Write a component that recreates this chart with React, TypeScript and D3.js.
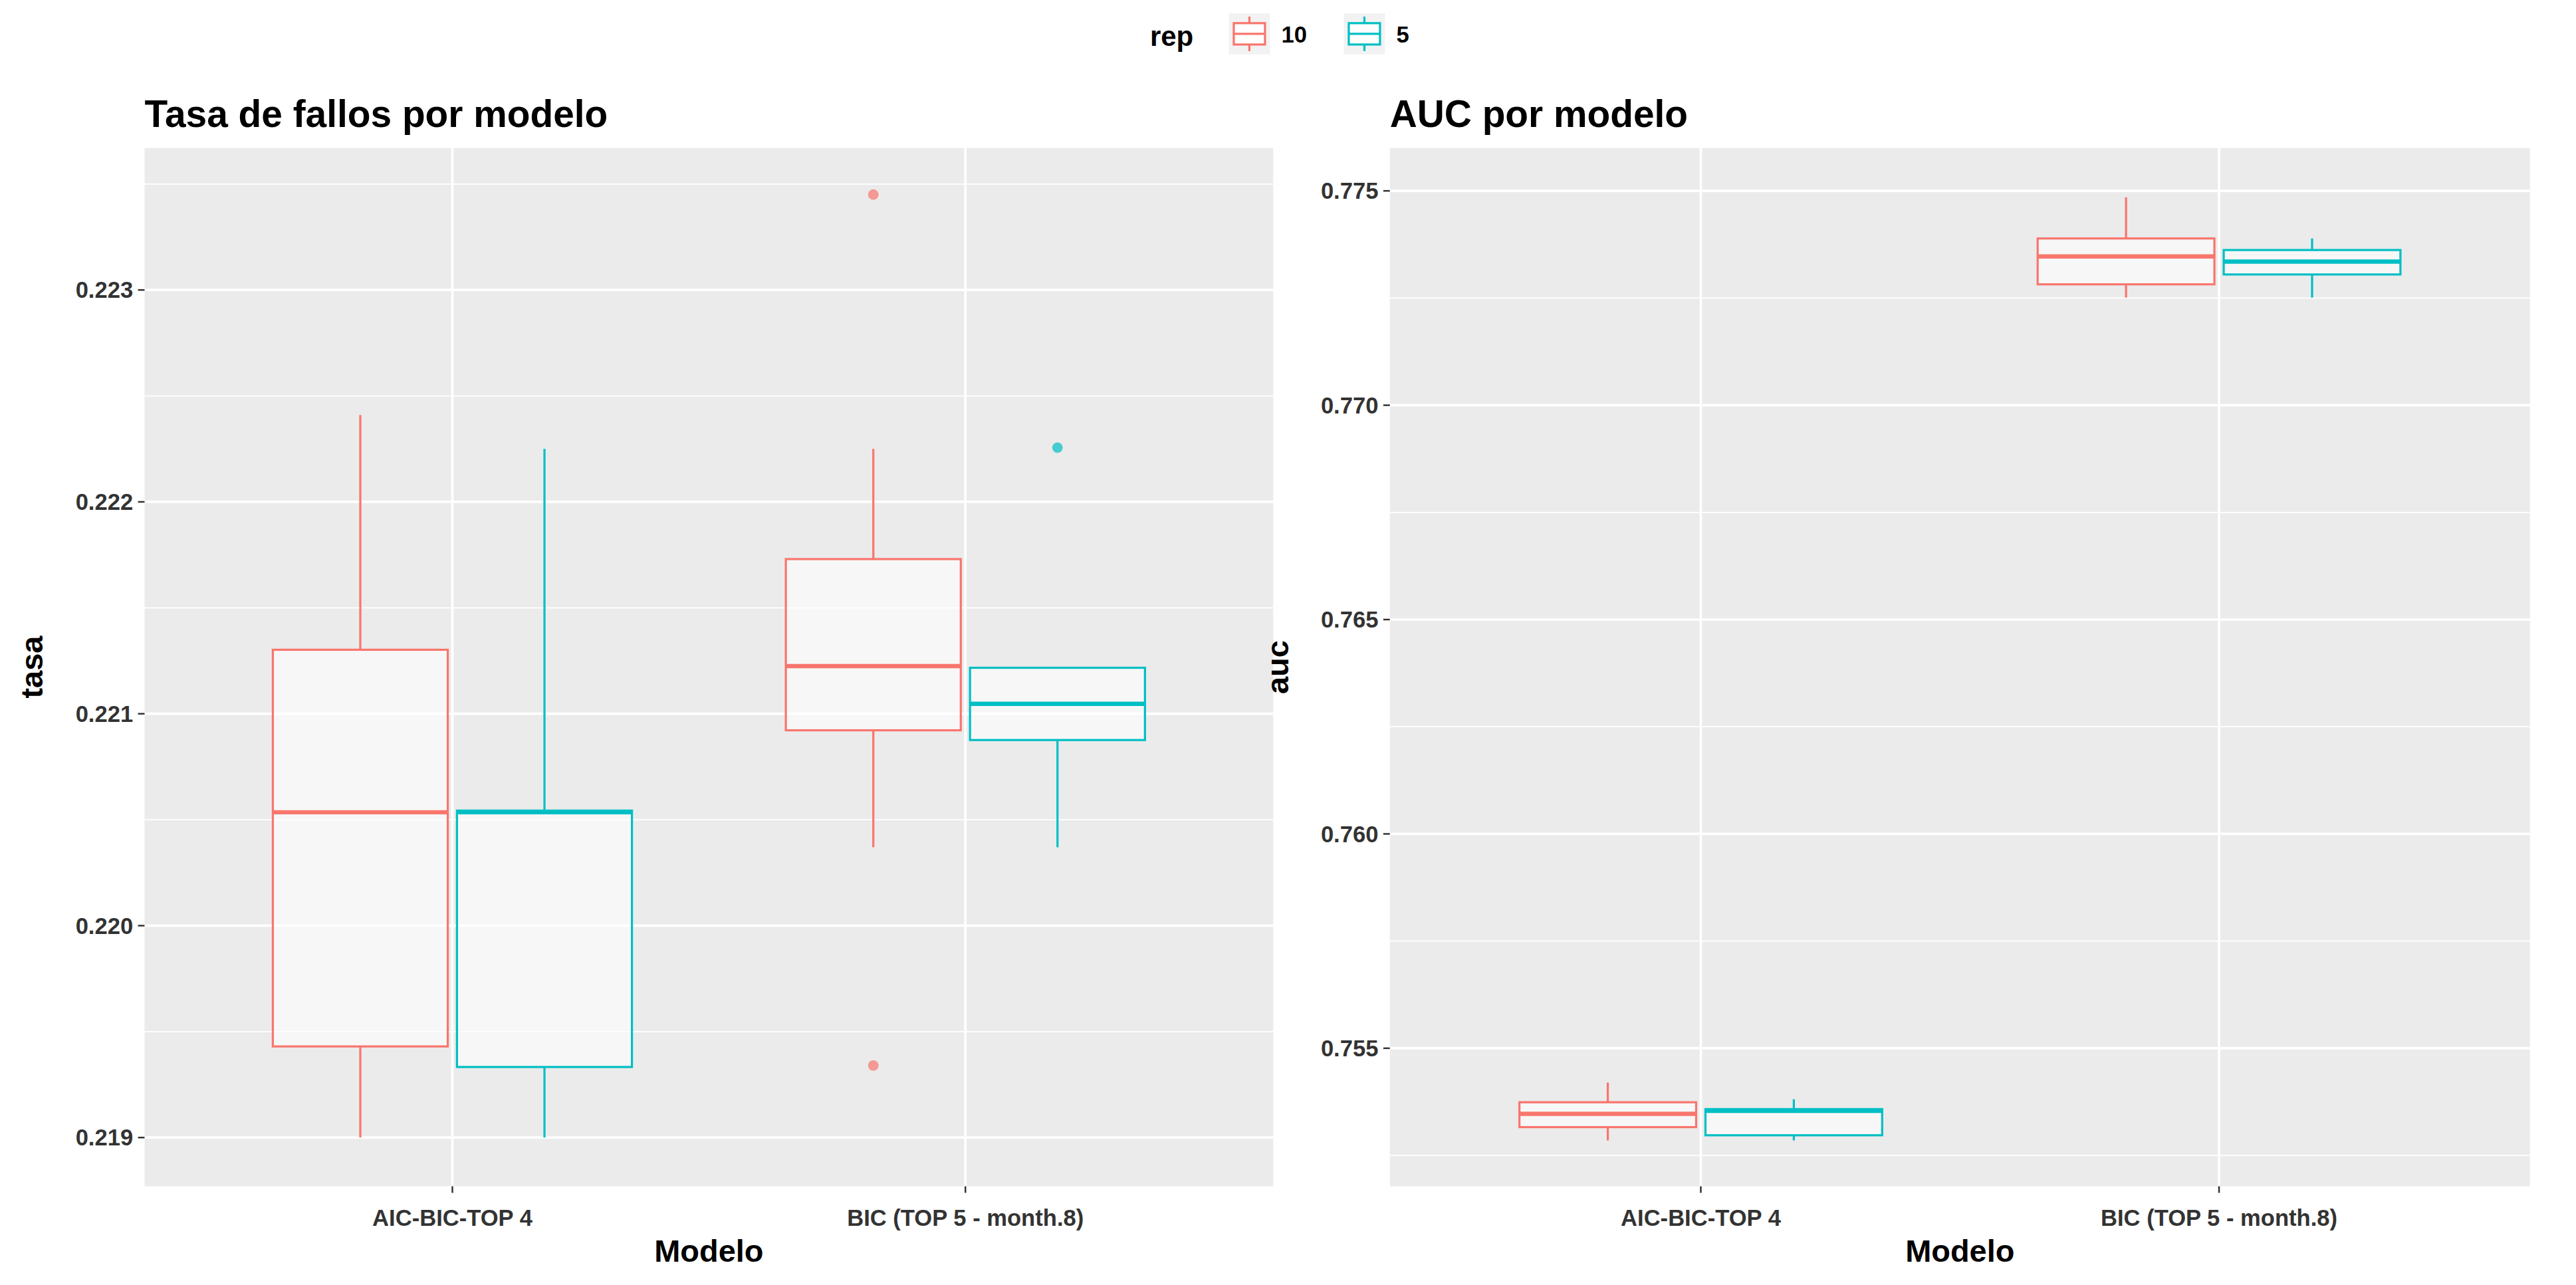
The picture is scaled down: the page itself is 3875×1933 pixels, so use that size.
import * as d3 from "d3";

const W = 1568, H = 782;
const MODELS = ["AIC-BIC-TOP 4", "BIC (TOP 5 - month.8)"];
const REPS = ["10", "5"];
const COLORS = ["#F8766D", "#00BFC4"];

// [lower whisker, Q1, median, Q3, upper whisker] per model x rep
const TASA_STATS = [
  [[0.219, 0.21943, 0.220535, 0.221302, 0.22241], [0.219, 0.219333, 0.220535, 0.220543, 0.22225]],
  [[0.22037, 0.220922, 0.221225, 0.22173, 0.22225], [0.22037, 0.220876, 0.221047, 0.221217, 0.221217]],
];
const TASA_OUT = [[[], []], [[0.22345, 0.21934], [0.222256]]];
const AUC_STATS = [
  [[0.75285, 0.75316, 0.75347, 0.75374, 0.7542], [0.75285, 0.75297, 0.75354, 0.75358, 0.75381]],
  [[0.77251, 0.77282, 0.77347, 0.77389, 0.77485], [0.77251, 0.77305, 0.77335, 0.77362, 0.77389]],
];
const AUC_OUT = [[[], []], [[], []]];
const TASA_TICKS = [0.219, 0.22, 0.221, 0.222, 0.223];
const AUC_TICKS = [0.755, 0.76, 0.765, 0.77, 0.775];

const FONT = "Liberation Sans, Arial, sans-serif";

function Panel({ x0, x1, title, yLabel, domain, ticks, fmt, stats, outs }: any) {
  const top = 90, bottom = 722;
  const y = d3.scaleLinear().domain(domain).range([bottom, top]);
  const xp = d3.scalePoint().domain(MODELS).range([x0, x1]).padding(0.6);
  const groupW = xp.step() * 0.7;
  const xr = d3.scaleBand().domain(REPS).range([-groupW / 2, groupW / 2]).paddingInner(0.05);
  const step = ticks[1] - ticks[0];
  const minors = [ticks[0] - step / 2, ...ticks.map((t: number) => t + step / 2)].filter(
    (v) => v > domain[0] && v < domain[1]
  );
  return (
    <g fontFamily={FONT}>
      <rect x={x0} y={top} width={x1 - x0} height={bottom - top} fill="#EBEBEB" />
      {minors.map((m, i) => (
        <line key={"m" + i} x1={x0} x2={x1} y1={y(m)} y2={y(m)} stroke="#fff" strokeWidth={0.7} />
      ))}
      {ticks.map((t: number) => (
        <line key={t} x1={x0} x2={x1} y1={y(t)} y2={y(t)} stroke="#fff" strokeWidth={1.5} />
      ))}
      {MODELS.map((m) => (
        <line key={m} x1={xp(m)!} x2={xp(m)!} y1={top} y2={bottom} stroke="#fff" strokeWidth={1.5} />
      ))}
      {MODELS.map((m, mi) =>
        REPS.map((r, ri) => {
          const [lo, q1, med, q3, hi] = stats[mi][ri];
          const bx = xp(m)! + xr(r)!;
          const bw = xr.bandwidth();
          const cx = bx + bw / 2;
          const c = COLORS[ri];
          return (
            <g key={m + r}>
              <line x1={cx} x2={cx} y1={y(hi)} y2={y(q3)} stroke={c} strokeWidth={1.3} />
              <line x1={cx} x2={cx} y1={y(q1)} y2={y(lo)} stroke={c} strokeWidth={1.3} />
              <rect x={bx} y={y(q3)} width={bw} height={y(q1) - y(q3)} fill="#fff" fillOpacity={0.6} stroke={c} strokeWidth={1.3} />
              <line x1={bx} x2={bx + bw} y1={y(med)} y2={y(med)} stroke={c} strokeWidth={2.6} />
              {outs[mi][ri].map((o: number, k: number) => (
                <circle key={k} cx={cx} cy={y(o)} r={3.2} fill={c} fillOpacity={0.7} />
              ))}
            </g>
          );
        })
      )}
      {ticks.map((t: number) => (
        <g key={"t" + t}>
          <line x1={x0 - 4} x2={x0} y1={y(t)} y2={y(t)} stroke="#333" />
          <text x={x0 - 7} y={y(t)} dy="0.35em" textAnchor="end" fontSize={14} fontWeight="bold" fill="#333">{fmt(t)}</text>
        </g>
      ))}
      {MODELS.map((m) => (
        <g key={"x" + m}>
          <line x1={xp(m)!} x2={xp(m)!} y1={bottom} y2={bottom + 4} stroke="#333" />
          <text x={xp(m)!} y={bottom + 24} textAnchor="middle" fontSize={14} fontWeight="bold" fill="#333">{m}</text>
        </g>
      ))}
      <text x={(x0 + x1) / 2} y={768} textAnchor="middle" fontSize={19} fontWeight="bold">Modelo</text>
      <text transform={`translate(${x0 - 62},${(top + bottom) / 2}) rotate(-90)`} textAnchor="middle" fontSize={19} fontWeight="bold">{yLabel}</text>
      <text x={x0} y={77} fontSize={23} fontWeight="bold">{title}</text>
    </g>
  );
}

export default function App() {
  return (
    <svg width={3875} height={1933} viewBox={`0 0 ${W} ${H}`} style={{ display: "block", background: "#fff", margin: "-8px 0 0 -8px" }}>
      <g fontFamily={FONT}>
        <text x={700} y={28} fontSize={17} fontWeight="bold">rep</text>
        {REPS.map((r, i) => {
          const lx = 748 + i * 70;
          return (
            <g key={r}>
              <rect x={lx} y={8} width={25} height={25} fill="#F2F2F2" />
              <line x1={lx + 12.5} x2={lx + 12.5} y1={10} y2={31} stroke={COLORS[i]} strokeWidth={1.3} />
              <rect x={lx + 3} y={14} width={19} height={13} fill="#fff" stroke={COLORS[i]} strokeWidth={1.3} />
              <line x1={lx + 3} x2={lx + 22} y1={20.5} y2={20.5} stroke={COLORS[i]} strokeWidth={1.3} />
              <text x={lx + 32} y={26} fontSize={14} fontWeight="bold">{r}</text>
            </g>
          );
        })}
      </g>
      <Panel x0={88} x1={775} title="Tasa de fallos por modelo" yLabel="tasa" domain={[0.21877, 0.22367]}
        ticks={TASA_TICKS} fmt={d3.format(".3f")} stats={TASA_STATS} outs={TASA_OUT} />
      <Panel x0={846} x1={1540} title="AUC por modelo" yLabel="auc" domain={[0.75178, 0.776]}
        ticks={AUC_TICKS} fmt={d3.format(".3f")} stats={AUC_STATS} outs={AUC_OUT} />
    </svg>
  );
}
